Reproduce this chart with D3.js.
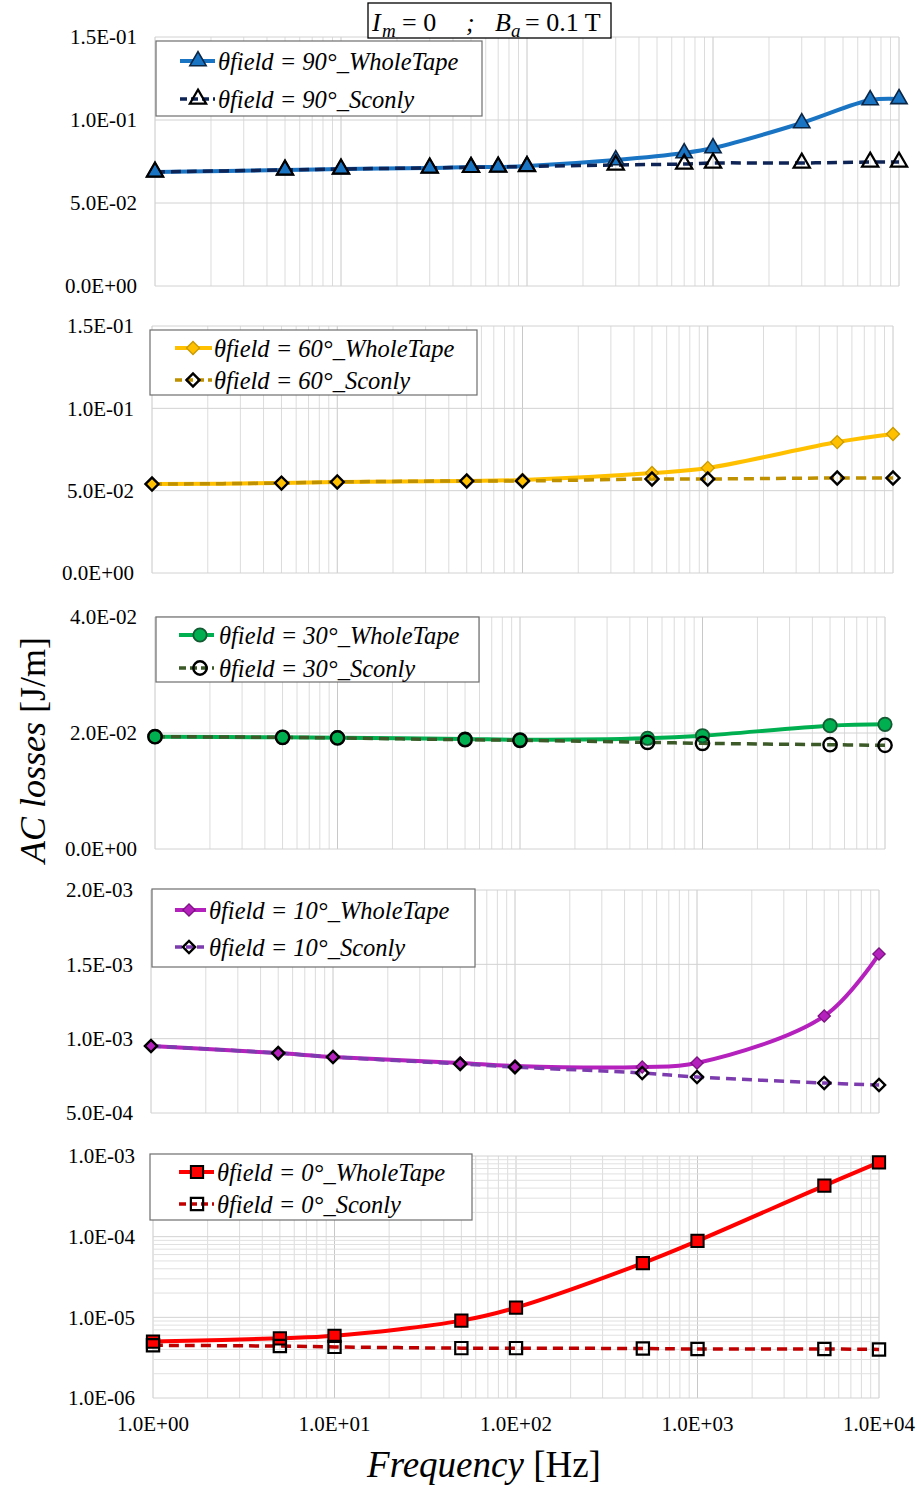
<!DOCTYPE html>
<html>
<head>
<meta charset="utf-8">
<script src="https://cdn.jsdelivr.net/npm/d3@7"></script>
<style>
  body { margin: 0; background: #fff; }
  text { font-family: 'Liberation Serif', 'Times New Roman', serif; fill: #000; }
</style>
</head>
<body>
<svg id="chart" width="921" height="1494"></svg>
<script>

// frequencies [Hz]
var freq_90 = [1, 5, 10, 30, 50, 70, 100, 300, 700, 1000, 3000, 7000, 10000];
var freq = [1, 5, 10, 50, 100, 500, 1000, 5000, 10000];

// AC losses [J/m]
var whole_90 = [0.0687, 0.0699, 0.0705, 0.0711, 0.0717, 0.0717, 0.0723, 0.0759, 0.0801, 0.0831, 0.0982, 0.1120, 0.1127];
var sconly_90 = [0.0687, 0.0699, 0.0705, 0.0711, 0.0715, 0.0717, 0.0720, 0.0729, 0.0735, 0.0741, 0.0741, 0.0747, 0.0747];

var whole_60 = [0.0540, 0.0546, 0.0553, 0.0559, 0.0565, 0.0607, 0.0638, 0.0795, 0.0844];
var sconly_60 = [0.0540, 0.0546, 0.0553, 0.0559, 0.0559, 0.0571, 0.0571, 0.0577, 0.0577];

var whole_30 = [0.01937, 0.01925, 0.01919, 0.01897, 0.01884, 0.01909, 0.01953, 0.02126, 0.02150];
var sconly_30 = [0.01937, 0.01925, 0.01914, 0.01884, 0.01874, 0.01839, 0.01822, 0.01798, 0.01788];

var whole_10 = [9.51e-4, 9.03e-4, 8.77e-4, 8.36e-4, 8.16e-4, 8.09e-4, 8.36e-4, 1.152e-3, 1.569e-3];
var sconly_10 = [9.51e-4, 9.03e-4, 8.77e-4, 8.30e-4, 8.09e-4, 7.69e-4, 7.42e-4, 7.02e-4, 6.88e-4];

var whole_0 = [5.0e-6, 5.5e-6, 5.9e-6, 9.1e-6, 1.32e-5, 4.70e-5, 8.85e-5, 4.30e-4, 8.35e-4];
var sconly_0 = [4.5e-6, 4.4e-6, 4.3e-6, 4.15e-6, 4.15e-6, 4.1e-6, 4.05e-6, 4.05e-6, 4.0e-6];

var y_ticks_90 = [0, 0.05, 0.10, 0.15];
var y_ticks_60 = [0, 0.05, 0.10, 0.15];
var y_ticks_30 = [0, 0.02, 0.04];
var y_ticks_10 = [5e-4, 1e-3, 1.5e-3, 2e-3];
var y_ticks_0 = [1e-6, 1e-5, 1e-4, 1e-3];
var x_ticks = [1, 10, 100, 1000, 10000];

var legend_whole = ['\u03B8field = 90\u00B0_WholeTape', '\u03B8field = 60\u00B0_WholeTape', '\u03B8field = 30\u00B0_WholeTape',
                    '\u03B8field = 10\u00B0_WholeTape', '\u03B8field = 0\u00B0_WholeTape'];
var legend_sconly = ['\u03B8field = 90\u00B0_Sconly', '\u03B8field = 60\u00B0_Sconly', '\u03B8field = 30\u00B0_Sconly',
                     '\u03B8field = 10\u00B0_Sconly', '\u03B8field = 0\u00B0_Sconly'];

var svg = d3.select('#chart');
svg.append('rect').attr('width', 921).attr('height', 1494).attr('fill', '#fff');

function sci(v)
{
  if (v === 0) return '0.0E+00';
  var parts = v.toExponential(1).split('e');
  var e = parseInt(parts[1]);
  return parts[0] + 'E' + (e < 0 ? '-' : '+') + String(Math.abs(e)).padStart(2, '0');
}

class LossPanelView
{
  constructor(box, y_log, y_domain, y_ticks)
  {
    this.box = box;
    this.g = svg.append('g');

    this.x = d3.scaleLog().domain([1, 10000]).range([box.left, box.right]);
    this.y = (y_log ? d3.scaleLog() : d3.scaleLinear()).domain(y_domain).range([box.bottom, box.top]);
    this.y_log = y_log;
    this.y_ticks = y_ticks;
  }

  make_gridlines()
  {
    var x_lines = [];
    for (var k = 0; k < 4; k++)
      for (var m = 1; m < 10; m++) x_lines.push(m * Math.pow(10, k));
    x_lines.push(10000);

    this.g.selectAll('.vgrid')
          .data(x_lines)
          .enter()
          .append('line')
          .attr('x1', d => this.x(d)).attr('x2', d => this.x(d))
          .attr('y1', this.box.top).attr('y2', this.box.bottom)
          .attr('stroke', d => (Math.log10(d) % 1 === 0) ? 'rgb(200,200,200)' : 'rgb(220,220,220)')
          .attr('stroke-width', 1);

    var y_lines = this.y_ticks.slice();
    if (this.y_log)
    {
      y_lines = [];
      for (var k = -6; k < -3; k++)
        for (var m = 1; m < 10; m++) y_lines.push(m * Math.pow(10, k));
      y_lines.push(1e-3);
    }

    this.g.selectAll('.hgrid')
          .data(y_lines)
          .enter()
          .append('line')
          .attr('x1', this.box.left).attr('x2', this.box.right)
          .attr('y1', d => this.y(d)).attr('y2', d => this.y(d))
          .attr('stroke', (d, i) => (!this.y_log || Math.abs(Math.log10(d) % 1) < 1e-9) ? 'rgb(210,210,210)' : 'rgb(225,225,225)')
          .attr('stroke-width', 1);

    this.g.selectAll('.ylab')
          .data(this.y_ticks)
          .enter()
          .append('text')
          .attr('x', this.box.left - 18)
          .attr('y', d => this.y(d))
          .attr('dy', '0.35em')
          .attr('text-anchor', 'end')
          .attr('font-size', 21)
          .text(d => sci(d));
  }

  to_points(xs, ys)
  {
    return xs.map((f, i) => [this.x(f), this.y(ys[i])]);
  }

  add_line(pts, style)
  {
    var line = d3.line().curve(d3.curveCatmullRom.alpha(0.5));

    this.g.append('path')
          .attr('d', line(pts))
          .attr('fill', 'none')
          .attr('stroke', style.color)
          .attr('stroke-width', style.dash ? 3.5 : 4)
          .attr('stroke-dasharray', style.dash ? '10,6' : null);
  }

  add_markers(pts, style)
  {
    var sym = d3.symbol().type(style.shape).size(style.size);
    this.g.selectAll(null)
          .data(pts)
          .enter()
          .append('path')
          .attr('d', sym)
          .attr('transform', d => 'translate(' + d[0] + ',' + d[1] + ')' + (style.rotate ? ' rotate(45)' : ''))
          .attr('fill', style.fill)
          .attr('stroke', style.edge)
          .attr('stroke-width', style.edge_width);
  }

  add_series(xs, whole, sconly, ws, ss)
  {
    var pw = this.to_points(xs, whole);
    var ps = this.to_points(xs, sconly);
    // lines below, markers on top (as the spreadsheet draws them)
    this.add_line(pw, ws);
    this.add_line(ps, ss);
    this.add_markers(pw, ws);
    this.add_markers(ps, ss);
  }

  add_legend(lg, labels, styles)
  {
    this.g.append('rect')
          .attr('x', lg.x).attr('y', lg.y)
          .attr('width', lg.w).attr('height', lg.h)
          .attr('fill', '#fff')
          .attr('stroke', 'rgb(110,110,110)')
          .attr('stroke-width', 1.2);

    labels.forEach((lab, i) => {
      var yy = lg.rows[i];
      var st = styles[i];
      this.g.append('line')
            .attr('x1', lg.s0).attr('x2', lg.s1)
            .attr('y1', yy).attr('y2', yy)
            .attr('stroke', st.color)
            .attr('stroke-width', st.dash ? 3.5 : 4)
            .attr('stroke-dasharray', st.dash ? '7,4' : null);
      this.add_markers([[lg.m, yy]], st);
      this.g.append('text')
            .attr('x', lg.t)
            .attr('y', yy)
            .attr('dy', '0.35em')
            .attr('font-size', 24.5)
            .attr('font-style', 'italic')
            .text(lab);
    });
  }
}

var panels = [
  {box: {left: 155, right: 899, top: 37, bottom: 286}, log: false, dom: [0, 0.15], ticks: y_ticks_90,
   xs: freq_90, whole: whole_90, sconly: sconly_90,
   lg: {x: 156, y: 41, w: 326, h: 75, rows: [61, 99], s0: 180, s1: 215, m: 198, t: 218},
   ws: {color: '#1a74c4', shape: d3.symbolTriangle, size: 115, fill: '#1a74c4', edge: '#0b2545', edge_width: 1.6},
   ss: {color: '#0f2456', dash: true, shape: d3.symbolTriangle, size: 115, fill: 'none', edge: '#000', edge_width: 2.2}},
  {box: {left: 152, right: 893, top: 326, bottom: 573}, log: false, dom: [0, 0.15], ticks: y_ticks_60,
   xs: freq, whole: whole_60, sconly: sconly_60,
   lg: {x: 150, y: 330, w: 327, h: 65, rows: [348, 380], s0: 175, s1: 212, m: 193, t: 214},
   ws: {color: '#ffc000', shape: d3.symbolSquare, size: 85, rotate: true, fill: '#ffc000', edge: '#c99a00', edge_width: 1.3},
   ss: {color: '#bf9000', dash: true, shape: d3.symbolSquare, size: 85, rotate: true, fill: 'none', edge: '#000', edge_width: 2.4}},
  {box: {left: 155, right: 885, top: 617, bottom: 849}, log: false, dom: [0, 0.04], ticks: y_ticks_30,
   xs: freq, whole: whole_30, sconly: sconly_30,
   lg: {x: 156, y: 617, w: 323, h: 65, rows: [635, 668], s0: 179, s1: 214, m: 200, t: 219},
   ws: {color: '#00b050', shape: d3.symbolCircle, size: 140, fill: '#00b050', edge: '#145a32', edge_width: 1.8},
   ss: {color: '#3b5a27', dash: true, shape: d3.symbolCircle, size: 140, fill: 'none', edge: '#000', edge_width: 2.4}},
  {box: {left: 151, right: 879, top: 890, bottom: 1113}, log: false, dom: [5e-4, 2e-3], ticks: y_ticks_10,
   xs: freq, whole: whole_10, sconly: sconly_10,
   lg: {x: 152, y: 889, w: 323, h: 78, rows: [910, 947], s0: 175, s1: 206, m: 189, t: 209},
   ws: {color: '#b521bd', shape: d3.symbolSquare, size: 75, rotate: true, fill: '#b521bd', edge: '#7a137f', edge_width: 1.3},
   ss: {color: '#7c3cae', dash: true, shape: d3.symbolSquare, size: 75, rotate: true, fill: 'none', edge: '#000', edge_width: 2.4}},
  {box: {left: 153, right: 879, top: 1156, bottom: 1398}, log: true, dom: [1e-6, 1e-3], ticks: y_ticks_0,
   xs: freq, whole: whole_0, sconly: sconly_0,
   lg: {x: 150, y: 1154, w: 322, h: 66, rows: [1172, 1204], s0: 179, s1: 214, m: 197, t: 217},
   ws: {color: '#ff0000', shape: d3.symbolSquare, size: 150, fill: '#ff0000', edge: '#000', edge_width: 2},
   ss: {color: '#c00000', dash: true, shape: d3.symbolSquare, size: 150, fill: 'none', edge: '#000', edge_width: 2.2}}
];

panels.forEach((p, i) => {
  var view = new LossPanelView(p.box, p.log, p.dom, p.ticks);
  view.make_gridlines();
  view.add_series(p.xs, p.whole, p.sconly, p.ws, p.ss);
  view.add_legend(p.lg, [legend_whole[i], legend_sconly[i]], [p.ws, p.ss]);
  if (i === panels.length - 1)
  {
    view.g.selectAll('.xlab')
        .data(x_ticks)
        .enter()
        .append('text')
        .attr('x', d => view.x(d))
        .attr('y', 1431)
        .attr('text-anchor', 'middle')
        .attr('font-size', 21)
        .text(d => sci(d));
  }
});

// condition box on top
svg.append('rect')
   .attr('x', 368).attr('y', 3).attr('width', 243).attr('height', 35)
   .attr('fill', '#fff').attr('stroke', '#000').attr('stroke-width', 1.3);

var cond = [
  {x: 372, y: 31, s: 26, it: true, t: 'I'},
  {x: 382, y: 37, s: 19, it: true, t: 'm'},
  {x: 402, y: 31, s: 26, it: false, t: '= 0'},
  {x: 466, y: 31, s: 26, it: true, t: ';'},
  {x: 495, y: 31, s: 26, it: true, t: 'B'},
  {x: 511, y: 37, s: 19, it: true, t: 'a'},
  {x: 525, y: 31, s: 26, it: false, t: '= 0.1 T'}
];
svg.selectAll('.cond')
   .data(cond)
   .enter()
   .append('text')
   .attr('x', d => d.x).attr('y', d => d.y)
   .attr('font-size', d => d.s)
   .attr('font-style', d => d.it ? 'italic' : 'normal')
   .text(d => d.t);

// axis titles
var ylab = svg.append('text')
   .attr('transform', 'translate(45,750) rotate(-90)')
   .attr('text-anchor', 'middle')
   .attr('font-size', 36);
ylab.append('tspan').attr('font-style', 'italic').text('AC losses');
ylab.append('tspan').text(' [J/m]');

var xlab = svg.append('text')
   .attr('x', 484).attr('y', 1477)
   .attr('text-anchor', 'middle')
   .attr('font-size', 37);
xlab.append('tspan').attr('font-style', 'italic').text('Frequency');
xlab.append('tspan').text(' [Hz]');

</script>
</body>
</html>
